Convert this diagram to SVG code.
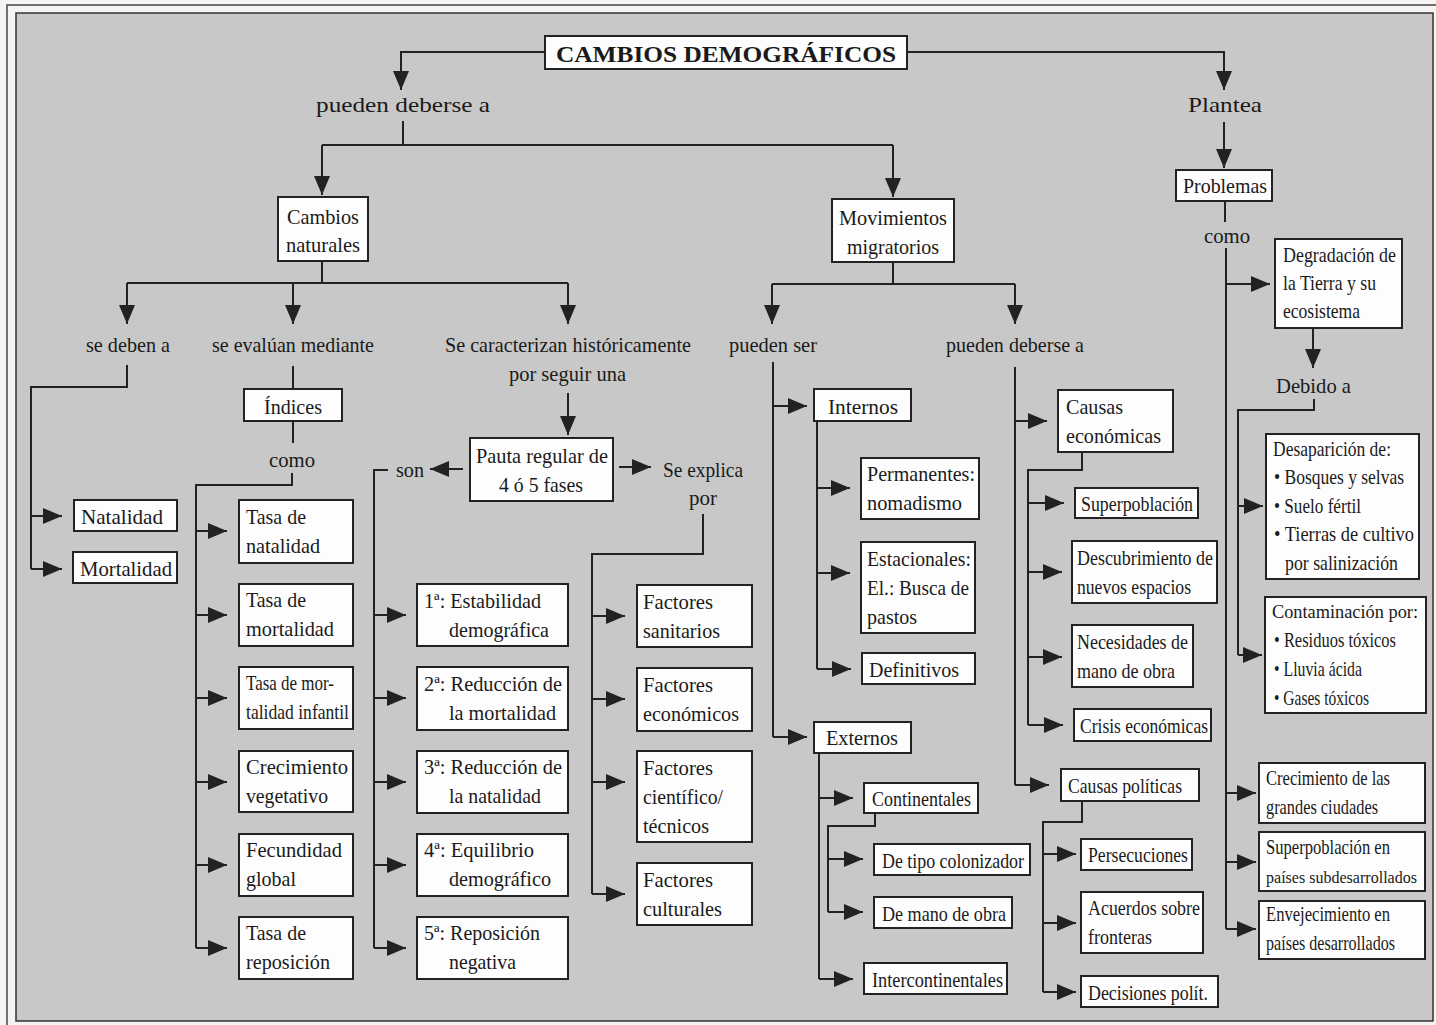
<svg xmlns="http://www.w3.org/2000/svg" width="1436" height="1025" viewBox="0 0 1436 1025">
<style>
.bg{fill:#c8c8c8;stroke:#333;stroke-width:1.5}
.fr{fill:none;stroke:#444;stroke-width:1.5}
.box{fill:#fdfdfd;stroke:#222;stroke-width:2}
.t{font-family:"Liberation Serif",serif;font-size:21px;fill:#1a1a1a}
.h{font-family:"Liberation Serif",serif;font-size:24px;font-weight:bold;fill:#1a1a1a}
.conn path{fill:none;stroke:#222;stroke-width:2}
.ar{marker-end:url(#ah)}
</style>
<defs>
<marker id="ah" markerUnits="userSpaceOnUse" markerWidth="20" markerHeight="16" refX="19" refY="8" orient="auto"><path d="M0,0 L19,8 L0,16 z" fill="#222"/></marker>
</defs>
<rect x="0" y="0" width="1436" height="1025" fill="#f4f4f4"/>
<rect class="fr" x="7" y="5" width="1440" height="1030"/>
<rect class="bg" x="16" y="13" width="1417" height="1008"/>

<g id="connectors" class="conn">
<path class="ar" d="M545,52 H401 V90"/>
<path class="ar" d="M907,52 H1224 V90"/>
<path d="M403,121 V145 M322,145 H893"/>
<path class="ar" d="M322,145 V195"/>
<path class="ar" d="M893,145 V197"/>
<path class="ar" d="M1224,122 V168"/>
<path d="M1225,201 V222"/>
<path d="M322,261 V283 M127,283 H568"/>
<path class="ar" d="M127,283 V324"/>
<path class="ar" d="M293,283 V324"/>
<path class="ar" d="M568,283 V324"/>
<path d="M893,262 V284 M772,284 H1015"/>
<path class="ar" d="M772,284 V324"/>
<path class="ar" d="M1015,284 V324"/>
<path d="M127,365 V387 H31 V569"/>
<path class="ar" d="M31,516 H62"/>
<path class="ar" d="M31,569 H62"/>
<path d="M293,366 V389 M293,421 V443"/>
<path d="M292,473 V485 H196 V948"/>
<path class="ar" d="M196,531 H227"/>
<path class="ar" d="M196,615 H227"/>
<path class="ar" d="M196,698 H227"/>
<path class="ar" d="M196,782 H227"/>
<path class="ar" d="M196,865 H227"/>
<path class="ar" d="M196,948 H227"/>
<path class="ar" d="M568,393 V435"/>
<path class="ar" d="M463,469 H430"/>
<path d="M388,470 H374 V948"/>
<path class="ar" d="M374,615 H406"/>
<path class="ar" d="M374,698 H406"/>
<path class="ar" d="M374,782 H406"/>
<path class="ar" d="M374,865 H406"/>
<path class="ar" d="M374,948 H406"/>
<path class="ar" d="M619,467 H651"/>
<path d="M703,514 V554 H592 V894"/>
<path class="ar" d="M592,616 H625"/>
<path class="ar" d="M592,699 H625"/>
<path class="ar" d="M592,782 H625"/>
<path class="ar" d="M592,894 H625"/>
<path d="M773,362 V737"/>
<path class="ar" d="M773,406 H807"/>
<path class="ar" d="M773,737 H807"/>
<path d="M817,421 V669"/>
<path class="ar" d="M817,488 H850"/>
<path class="ar" d="M817,573 H850"/>
<path class="ar" d="M817,669 H851"/>
<path d="M819,753 V979"/>
<path class="ar" d="M819,798 H853"/>
<path class="ar" d="M819,979 H853"/>
<path d="M875,813 V826 H828 V912"/>
<path class="ar" d="M828,859 H863"/>
<path class="ar" d="M828,912 H863"/>
<path d="M1015,367 V785"/>
<path class="ar" d="M1015,421 H1047"/>
<path class="ar" d="M1015,785 H1049"/>
<path d="M1082,452 V470 H1028 V725"/>
<path class="ar" d="M1028,503 H1064"/>
<path class="ar" d="M1028,572 H1062"/>
<path class="ar" d="M1028,657 H1062"/>
<path class="ar" d="M1028,725 H1063"/>
<path d="M1082,801 V822 H1043 V992"/>
<path class="ar" d="M1043,854 H1076"/>
<path class="ar" d="M1043,923 H1076"/>
<path class="ar" d="M1043,992 H1076"/>
<path d="M1226,248 V929"/>
<path class="ar" d="M1226,284 H1270"/>
<path class="ar" d="M1226,793 H1256"/>
<path class="ar" d="M1226,862 H1256"/>
<path class="ar" d="M1226,929 H1256"/>
<path class="ar" d="M1313,328 V368"/>
<path d="M1314,399 V410 H1238 V655"/>
<path class="ar" d="M1238,506 H1263"/>
<path class="ar" d="M1238,655 H1262"/>
</g>

<g id="title"><rect class="box" x="545" y="36" width="362" height="33"/><text class="h" x="556" y="62" textLength="340" lengthAdjust="spacingAndGlyphs">CAMBIOS DEMOGRÁFICOS</text></g>
<g id="lbl-pueden-deberse"><text class="t" x="316" y="112" textLength="174" lengthAdjust="spacingAndGlyphs" style="font-size:22px">pueden deberse a</text></g>
<g id="lbl-plantea"><text class="t" x="1188" y="112" textLength="74" lengthAdjust="spacingAndGlyphs" style="font-size:22px">Plantea</text></g>
<g id="problemas"><rect class="box" x="1176" y="170" width="96" height="31"/><text class="t" x="1183" y="193" textLength="84" lengthAdjust="spacingAndGlyphs">Problemas</text></g>
<g id="lbl-como2"><text class="t" x="1204" y="243" textLength="46" lengthAdjust="spacingAndGlyphs">como</text></g>
<g id="cambios-naturales"><rect class="box" x="278" y="197" width="90" height="64"/><text class="t" x="287" y="224" textLength="72" lengthAdjust="spacingAndGlyphs">Cambios</text><text class="t" x="286" y="252" textLength="74" lengthAdjust="spacingAndGlyphs">naturales</text></g>
<g id="movimientos"><rect class="box" x="832" y="199" width="122" height="63"/><text class="t" x="839" y="225" textLength="108" lengthAdjust="spacingAndGlyphs">Movimientos</text><text class="t" x="847" y="254" textLength="92" lengthAdjust="spacingAndGlyphs">migratorios</text></g>

<g id="lbl-se-deben"><text class="t" x="86" y="352" textLength="84" lengthAdjust="spacingAndGlyphs">se deben a</text></g>
<g id="lbl-se-evaluan"><text class="t" x="212" y="352" textLength="162" lengthAdjust="spacingAndGlyphs">se evalúan mediante</text></g>
<g id="lbl-se-caracterizan"><text class="t" x="445" y="352" textLength="246" lengthAdjust="spacingAndGlyphs">Se caracterizan históricamente</text><text class="t" x="509" y="381" textLength="117" lengthAdjust="spacingAndGlyphs">por seguir una</text></g>
<g id="lbl-pueden-ser"><text class="t" x="729" y="352" textLength="88" lengthAdjust="spacingAndGlyphs">pueden ser</text></g>
<g id="lbl-pueden-deberse2"><text class="t" x="946" y="352" textLength="138" lengthAdjust="spacingAndGlyphs">pueden deberse a</text></g>

<g id="natalidad"><rect class="box" x="74" y="500" width="103" height="31"/><text class="t" x="81" y="524" textLength="82" lengthAdjust="spacingAndGlyphs">Natalidad</text></g>
<g id="mortalidad"><rect class="box" x="73" y="552" width="104" height="31"/><text class="t" x="80" y="576" textLength="92" lengthAdjust="spacingAndGlyphs">Mortalidad</text></g>

<g id="indices"><rect class="box" x="244" y="389" width="98" height="32"/><text class="t" x="264" y="414" textLength="58" lengthAdjust="spacingAndGlyphs">Índices</text></g>
<g id="lbl-como1"><text class="t" x="269" y="467" textLength="46" lengthAdjust="spacingAndGlyphs">como</text></g>
<g id="tasa-natalidad"><rect class="box" x="239" y="500" width="114" height="63"/><text class="t" x="246" y="524" textLength="60" lengthAdjust="spacingAndGlyphs">Tasa de</text><text class="t" x="246" y="553" textLength="74" lengthAdjust="spacingAndGlyphs">natalidad</text></g>
<g id="tasa-mortalidad"><rect class="box" x="239" y="584" width="114" height="62"/><text class="t" x="246" y="607" textLength="60" lengthAdjust="spacingAndGlyphs">Tasa de</text><text class="t" x="246" y="636" textLength="88" lengthAdjust="spacingAndGlyphs">mortalidad</text></g>
<g id="tasa-mort-infantil"><rect class="box" x="239" y="667" width="114" height="62"/><text class="t" x="246" y="690" textLength="88" lengthAdjust="spacingAndGlyphs">Tasa de mor-</text><text class="t" x="246" y="719" textLength="103" lengthAdjust="spacingAndGlyphs">talidad infantil</text></g>
<g id="crecimiento-vegetativo"><rect class="box" x="239" y="751" width="114" height="61"/><text class="t" x="246" y="774" textLength="102" lengthAdjust="spacingAndGlyphs">Crecimiento</text><text class="t" x="246" y="803" textLength="82" lengthAdjust="spacingAndGlyphs">vegetativo</text></g>
<g id="fecundidad"><rect class="box" x="239" y="834" width="114" height="62"/><text class="t" x="246" y="857" textLength="96" lengthAdjust="spacingAndGlyphs">Fecundidad</text><text class="t" x="246" y="886" textLength="50" lengthAdjust="spacingAndGlyphs">global</text></g>
<g id="tasa-reposicion"><rect class="box" x="239" y="917" width="114" height="62"/><text class="t" x="246" y="940" textLength="60" lengthAdjust="spacingAndGlyphs">Tasa de</text><text class="t" x="246" y="969" textLength="84" lengthAdjust="spacingAndGlyphs">reposición</text></g>

<g id="pauta"><rect class="box" x="470" y="438" width="143" height="63"/><text class="t" x="476" y="463" textLength="132" lengthAdjust="spacingAndGlyphs">Pauta regular de</text><text class="t" x="499" y="492" textLength="84" lengthAdjust="spacingAndGlyphs">4 ó 5 fases</text></g>
<g id="lbl-son"><text class="t" x="396" y="477" textLength="28" lengthAdjust="spacingAndGlyphs">son</text></g>
<g id="lbl-se-explica"><text class="t" x="663" y="477" textLength="80" lengthAdjust="spacingAndGlyphs">Se explica</text><text class="t" x="689" y="505" textLength="28" lengthAdjust="spacingAndGlyphs">por</text></g>

<g id="fase1"><rect class="box" x="417" y="584" width="151" height="62"/><text class="t" x="424" y="608" textLength="117" lengthAdjust="spacingAndGlyphs">1ª: Estabilidad</text><text class="t" x="449" y="637" textLength="100" lengthAdjust="spacingAndGlyphs">demográfica</text></g>
<g id="fase2"><rect class="box" x="417" y="667" width="151" height="63"/><text class="t" x="424" y="691" textLength="138" lengthAdjust="spacingAndGlyphs">2ª: Reducción de</text><text class="t" x="449" y="720" textLength="107" lengthAdjust="spacingAndGlyphs">la mortalidad</text></g>
<g id="fase3"><rect class="box" x="417" y="751" width="151" height="62"/><text class="t" x="424" y="774" textLength="138" lengthAdjust="spacingAndGlyphs">3ª: Reducción de</text><text class="t" x="449" y="803" textLength="92" lengthAdjust="spacingAndGlyphs">la natalidad</text></g>
<g id="fase4"><rect class="box" x="417" y="834" width="151" height="62"/><text class="t" x="424" y="857" textLength="110" lengthAdjust="spacingAndGlyphs">4ª: Equilibrio</text><text class="t" x="449" y="886" textLength="102" lengthAdjust="spacingAndGlyphs">demográfico</text></g>
<g id="fase5"><rect class="box" x="417" y="917" width="151" height="62"/><text class="t" x="424" y="940" textLength="116" lengthAdjust="spacingAndGlyphs">5ª: Reposición</text><text class="t" x="449" y="969" textLength="67" lengthAdjust="spacingAndGlyphs">negativa</text></g>

<g id="factores-sanitarios"><rect class="box" x="637" y="585" width="115" height="62"/><text class="t" x="643" y="609" textLength="70" lengthAdjust="spacingAndGlyphs">Factores</text><text class="t" x="643" y="638" textLength="77" lengthAdjust="spacingAndGlyphs">sanitarios</text></g>
<g id="factores-economicos"><rect class="box" x="637" y="668" width="115" height="63"/><text class="t" x="643" y="692" textLength="70" lengthAdjust="spacingAndGlyphs">Factores</text><text class="t" x="643" y="721" textLength="96" lengthAdjust="spacingAndGlyphs">económicos</text></g>
<g id="factores-cientificos"><rect class="box" x="637" y="751" width="115" height="91"/><text class="t" x="643" y="775" textLength="70" lengthAdjust="spacingAndGlyphs">Factores</text><text class="t" x="643" y="804" textLength="80" lengthAdjust="spacingAndGlyphs">científico/</text><text class="t" x="643" y="833" textLength="66" lengthAdjust="spacingAndGlyphs">técnicos</text></g>
<g id="factores-culturales"><rect class="box" x="637" y="863" width="115" height="62"/><text class="t" x="643" y="887" textLength="70" lengthAdjust="spacingAndGlyphs">Factores</text><text class="t" x="643" y="916" textLength="79" lengthAdjust="spacingAndGlyphs">culturales</text></g>

<g id="internos"><rect class="box" x="814" y="389" width="97" height="32"/><text class="t" x="828" y="414" textLength="70" lengthAdjust="spacingAndGlyphs">Internos</text></g>
<g id="permanentes"><rect class="box" x="861" y="458" width="118" height="61"/><text class="t" x="867" y="481" textLength="108" lengthAdjust="spacingAndGlyphs">Permanentes:</text><text class="t" x="867" y="510" textLength="95" lengthAdjust="spacingAndGlyphs">nomadismo</text></g>
<g id="estacionales"><rect class="box" x="861" y="542" width="114" height="91"/><text class="t" x="867" y="566" textLength="104" lengthAdjust="spacingAndGlyphs">Estacionales:</text><text class="t" x="867" y="595" textLength="102" lengthAdjust="spacingAndGlyphs">El.: Busca de</text><text class="t" x="867" y="624" textLength="50" lengthAdjust="spacingAndGlyphs">pastos</text></g>
<g id="definitivos"><rect class="box" x="862" y="653" width="113" height="31"/><text class="t" x="869" y="677" textLength="90" lengthAdjust="spacingAndGlyphs">Definitivos</text></g>
<g id="externos"><rect class="box" x="814" y="722" width="97" height="31"/><text class="t" x="826" y="745" textLength="72" lengthAdjust="spacingAndGlyphs">Externos</text></g>
<g id="continentales"><rect class="box" x="864" y="783" width="114" height="30"/><text class="t" x="872" y="806" textLength="99" lengthAdjust="spacingAndGlyphs">Continentales</text></g>
<g id="colonizador"><rect class="box" x="874" y="844" width="156" height="31"/><text class="t" x="882" y="868" textLength="142" lengthAdjust="spacingAndGlyphs">De tipo colonizador</text></g>
<g id="mano-obra-ext"><rect class="box" x="874" y="897" width="138" height="31"/><text class="t" x="882" y="921" textLength="124" lengthAdjust="spacingAndGlyphs">De mano de obra</text></g>
<g id="intercontinentales"><rect class="box" x="864" y="963" width="143" height="31"/><text class="t" x="872" y="987" textLength="131" lengthAdjust="spacingAndGlyphs">Intercontinentales</text></g>

<g id="causas-economicas"><rect class="box" x="1058" y="390" width="115" height="62"/><text class="t" x="1066" y="414" textLength="57" lengthAdjust="spacingAndGlyphs">Causas</text><text class="t" x="1066" y="443" textLength="95" lengthAdjust="spacingAndGlyphs">económicas</text></g>
<g id="superpoblacion"><rect class="box" x="1075" y="488" width="123" height="30"/><text class="t" x="1081" y="511" textLength="112" lengthAdjust="spacingAndGlyphs">Superpoblación</text></g>
<g id="descubrimiento"><rect class="box" x="1072" y="541" width="145" height="62"/><text class="t" x="1077" y="565" textLength="136" lengthAdjust="spacingAndGlyphs">Descubrimiento de</text><text class="t" x="1077" y="594" textLength="114" lengthAdjust="spacingAndGlyphs">nuevos espacios</text></g>
<g id="necesidades"><rect class="box" x="1072" y="625" width="121" height="62"/><text class="t" x="1077" y="649" textLength="111" lengthAdjust="spacingAndGlyphs">Necesidades de</text><text class="t" x="1077" y="678" textLength="98" lengthAdjust="spacingAndGlyphs">mano de obra</text></g>
<g id="crisis"><rect class="box" x="1074" y="709" width="137" height="32"/><text class="t" x="1080" y="733" textLength="128" lengthAdjust="spacingAndGlyphs">Crisis económicas</text></g>
<g id="causas-politicas"><rect class="box" x="1061" y="769" width="138" height="32"/><text class="t" x="1068" y="793" textLength="114" lengthAdjust="spacingAndGlyphs">Causas políticas</text></g>
<g id="persecuciones"><rect class="box" x="1081" y="839" width="111" height="31"/><text class="t" x="1088" y="862" textLength="100" lengthAdjust="spacingAndGlyphs">Persecuciones</text></g>
<g id="acuerdos"><rect class="box" x="1081" y="892" width="122" height="61"/><text class="t" x="1088" y="915" textLength="112" lengthAdjust="spacingAndGlyphs">Acuerdos sobre</text><text class="t" x="1088" y="944" textLength="64" lengthAdjust="spacingAndGlyphs">fronteras</text></g>
<g id="decisiones"><rect class="box" x="1081" y="976" width="137" height="31"/><text class="t" x="1088" y="1000" textLength="120" lengthAdjust="spacingAndGlyphs">Decisiones polít.</text></g>

<g id="degradacion"><rect class="box" x="1275" y="239" width="127" height="89"/><text class="t" x="1283" y="262" textLength="113" lengthAdjust="spacingAndGlyphs">Degradación de</text><text class="t" x="1283" y="290" textLength="93" lengthAdjust="spacingAndGlyphs">la Tierra y su</text><text class="t" x="1283" y="318" textLength="77" lengthAdjust="spacingAndGlyphs">ecosistema</text></g>
<g id="lbl-debido"><text class="t" x="1276" y="393" textLength="75" lengthAdjust="spacingAndGlyphs">Debido a</text></g>
<g id="desaparicion"><rect class="box" x="1266" y="434" width="153" height="145"/><text class="t" x="1273" y="456" textLength="118" lengthAdjust="spacingAndGlyphs">Desaparición de:</text><text class="t" x="1274" y="484" textLength="130" lengthAdjust="spacingAndGlyphs">• Bosques y selvas</text><text class="t" x="1274" y="513" textLength="87" lengthAdjust="spacingAndGlyphs">• Suelo fértil</text><text class="t" x="1274" y="541" textLength="140" lengthAdjust="spacingAndGlyphs">• Tierras de cultivo</text><text class="t" x="1285" y="570" textLength="113" lengthAdjust="spacingAndGlyphs">por salinización</text></g>
<g id="contaminacion"><rect class="box" x="1265" y="597" width="161" height="116"/><text class="t" x="1272" y="618" textLength="146" lengthAdjust="spacingAndGlyphs" style="font-size:18px">Contaminación por:</text><text class="t" x="1274" y="647" textLength="122" lengthAdjust="spacingAndGlyphs">• Residuos tóxicos</text><text class="t" x="1274" y="676" textLength="88" lengthAdjust="spacingAndGlyphs">• Lluvia ácida</text><text class="t" x="1274" y="705" textLength="95" lengthAdjust="spacingAndGlyphs">• Gases tóxicos</text></g>
<g id="crecimiento-ciudades"><rect class="box" x="1259" y="763" width="166" height="60"/><text class="t" x="1266" y="785" textLength="124" lengthAdjust="spacingAndGlyphs">Crecimiento de las</text><text class="t" x="1266" y="814" textLength="112" lengthAdjust="spacingAndGlyphs">grandes ciudades</text></g>
<g id="superpoblacion-paises"><rect class="box" x="1259" y="832" width="166" height="59"/><text class="t" x="1266" y="854" textLength="124" lengthAdjust="spacingAndGlyphs">Superpoblación en</text><text class="t" x="1266" y="883" textLength="151" lengthAdjust="spacingAndGlyphs" style="font-size:17px">países subdesarrollados</text></g>
<g id="envejecimiento"><rect class="box" x="1259" y="901" width="166" height="58"/><text class="t" x="1266" y="921" textLength="124" lengthAdjust="spacingAndGlyphs">Envejecimiento en</text><text class="t" x="1266" y="950" textLength="129" lengthAdjust="spacingAndGlyphs">países desarrollados</text></g>
</svg>
